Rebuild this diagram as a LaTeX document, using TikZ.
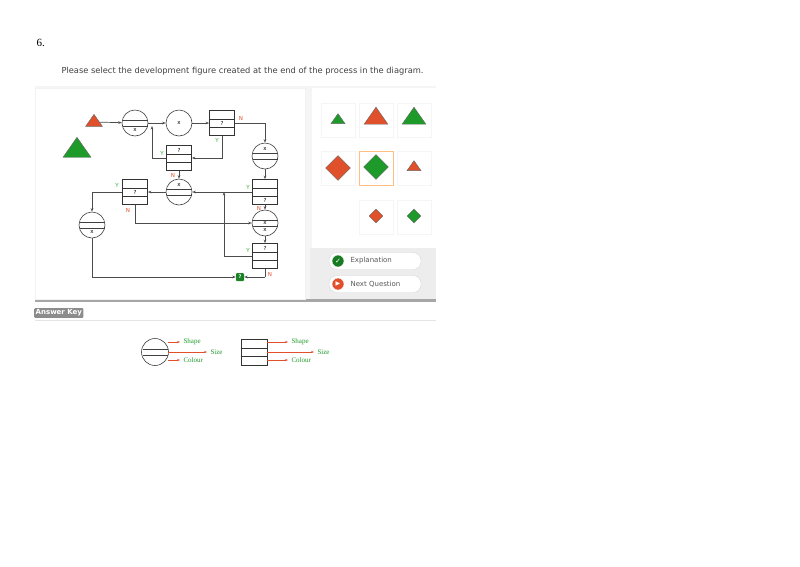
\documentclass[tikz,border=0pt]{standalone}
\usepackage{fontspec}
\setmainfont{Liberation Serif}
\newfontfamily\uisans{DejaVu Sans}
\usetikzlibrary{arrows.meta,shapes.geometric}
\definecolor{ored}{HTML}{E0502A}
\definecolor{ogreen}{HTML}{1E9A2A}
\definecolor{lbl}{HTML}{33AA33}
\begin{document}
\begin{tikzpicture}[x=1pt,y=-1pt,
  lk/.style={draw=black!70,line width=0.7pt,-{Stealth[length=3.5pt]}},
  ln/.style={draw=black!70,line width=0.7pt},
  circ/.style={circle,draw=black!75,line width=0.6pt,minimum size=26pt,inner sep=0pt},
  rbox/.style={rectangle,draw=black!80,line width=0.7pt,minimum width=25pt,minimum height=25pt,inner sep=0pt},
  ylab/.style={text=lbl,font=\uisans\fontsize{5.5}{5.5}\selectfont},
  nlab/.style={text=ored,font=\uisans\fontsize{5.5}{5.5}\selectfont},
  sm/.style={font=\uisans\fontsize{5.5}{5.5}\selectfont},
  cell/.style={draw=black!4,fill=white,minimum size=34pt,inner sep=0pt},
  tri/.style={isosceles triangle,shape border rotate=90,isosceles triangle apex angle=70,draw=black!60,inner sep=0pt},
  dia/.style={diamond,draw=black!60,inner sep=0pt},
  btn/.style={draw=black!15,fill=white,rounded corners=8pt,minimum width=92pt,minimum height=17pt},
  key/.style={text=ogreen,font=\fontsize{7}{7}\selectfont},
  karr/.style={draw=ored,line width=0.6pt,-{Stealth[length=3pt]}}]
\useasboundingbox (0,0) rectangle (800,566);
\node[anchor=west,font=\fontsize{11}{11}\selectfont] (num) at (33,43) {6.};
\node[anchor=west,text=black!75,font=\uisans\fontsize{8.3}{8.3}\selectfont] (q) at (58,71) {Please select the development figure created at the end of the process in the diagram.};
% panels
\fill[black!4] (35,86) rectangle (436,88);
\fill[black!4] (305,88) rectangle (312,300);
\fill[black!7] (310,248) rectangle (436,300);
\fill[black!35] (35,299) rectangle (436,302);
\draw[black!5] (35,88) rectangle (305,299);
% diagram nodes
\node[tri,fill=ored,minimum height=12pt] (st) at (94,122) {};
\node[tri,fill=ogreen,minimum height=20pt] (bg) at (77,150) {};
\newcommand{\circlines}[1]{\draw[black!75,line width=0.5pt] ([xshift=-12.5pt,yshift=-3pt]#1.center) -- ([xshift=12.5pt,yshift=-3pt]#1.center) ([xshift=-12.5pt,yshift=3pt]#1.center) -- ([xshift=12.5pt,yshift=3pt]#1.center);}
\newcommand{\boxlines}[1]{\draw[black!80,line width=0.5pt] ([yshift=-4.2pt]#1.west) -- ([yshift=-4.2pt]#1.east) ([yshift=4.2pt]#1.west) -- ([yshift=4.2pt]#1.east);}
\node[circ] (c1) at (135,123) {}; \circlines{c1}
\node[sm] (c1t) at (135,130) {x};
\node[circ] (c2) at (179,123) {};
\node[sm] (c2t) at (179,123) {x};
\node[rbox] (r1) at (222,123) {}; \boxlines{r1}
\node[sm] (r1t) at (222,123) {?};
\node[rbox] (r2) at (179,158) {}; \boxlines{r2}
\node[sm] (r2t) at (179,150) {?};
\node[circ] (c3) at (265,156) {}; \circlines{c3}
\node[sm] (c3t) at (265,149) {x};
\node[circ] (c4) at (179,192) {}; \circlines{c4}
\node[sm] (c4t) at (179,185) {x};
\node[rbox] (r3) at (265,192) {}; \boxlines{r3}
\node[sm] (r3t) at (265,200) {?};
\node[rbox] (r4) at (135,192) {}; \boxlines{r4}
\node[sm] (r4t) at (135,192) {?};
\node[circ] (c5) at (92,225) {}; \circlines{c5}
\node[sm] (c5t) at (92,232) {x};
\node[circ] (c6) at (265,223) {}; \circlines{c6}
\node[sm] (c6t) at (265,223) {x};
\node[sm] (c6b) at (265,230) {x};
\node[rbox] (r5) at (265,256) {}; \boxlines{r5}
\node[sm] (r5t) at (265,248) {?};
\node[fill=ogreen!85!black,text=white,minimum size=8pt,inner sep=0pt,rounded corners=1pt,font=\uisans\fontsize{5}{5}\selectfont\bfseries] (res) at (240,277) {?};
% connectors
\draw[lk] (st) -- (c1);
\draw[lk] (c1) -- (c2);
\draw[lk] (c2) -- (r1);
\draw[lk] (r1.east) -| (c3.north);
\node[nlab] (n1) at (241,118) {N};
\draw[lk] (r1.south) |- (r2.east);
\node[ylab] (y1) at (217,140) {Y};
\draw[lk] (r2.west) -| (152,126);
\node[ylab] (y2) at (162,153) {Y};
\draw[lk] (r2.south) -- (c4.north);
\node[nlab] (n2) at (173,175) {N};
\draw[lk] (c3) -- (r3);
\draw[lk] (r3.west) -- (c4.east);
\node[ylab] (y3) at (248,187) {Y};
\draw[lk] (r3.south) -- (c6.north);
\node[nlab] (n3) at (259,208) {N};
\draw[lk] (c4) -- (r4);
\draw[lk] (r4.west) -| (c5.north);
\node[ylab] (y4) at (117,185) {Y};
\draw[lk] (r4.south) |- (c6.west);
\node[nlab] (n4) at (128,210) {N};
\draw[lk] (c6) -- (r5);
\draw[lk] (r5.west) -| (224,192);
\node[ylab] (y5) at (248,250) {Y};
\coordinate (r5n) at (265,277);
\draw[ln] (r5.south) -- (r5n);
\draw[lk] (r5n) -- (res.east);
\node[nlab] (n5) at (270,274) {N};
\draw[lk] (c5.south) |- (res.west);
% options
\node[cell] (o1) at (338,120) {}; \node[tri,fill=ogreen,minimum height=10pt] (s1) at (338,120) {};
\node[cell] (o2) at (376,120) {}; \node[tri,fill=ored,minimum height=17pt] (s2) at (376,118) {};
\node[cell] (o3) at (414,120) {}; \node[tri,fill=ogreen,minimum height=17pt] (s3) at (414,118) {};
\node[cell] (o4) at (338,168) {}; \node[dia,fill=ored,minimum size=25pt] (s4) at (338,168) {};
\node[cell,draw=orange!50] (o5) at (376,168) {}; \node[dia,fill=ogreen,minimum size=25pt] (s5) at (376,167) {};
\node[cell] (o6) at (414,168) {}; \node[tri,fill=ored,minimum height=10pt] (s6) at (414,167) {};
\node[cell] (o8) at (376,217) {}; \node[dia,fill=ored,minimum size=14pt] (s8) at (376,216) {};
\node[cell] (o9) at (414,217) {}; \node[dia,fill=ogreen,minimum size=14pt] (s9) at (414,216) {};
% buttons
\node[btn] (b1) at (375,261) {};
\node[circle,fill=ogreen!80!black,draw=white,minimum size=12pt,inner sep=0pt,text=white,font=\uisans\fontsize{7}{7}\selectfont\bfseries] (b1i) at (338,261) {✓};
\node[anchor=west,text=black!65,font=\uisans\fontsize{7}{7}\selectfont] (b1t) at (347,261) {Explanation};
\node[btn] (b2) at (375,284) {};
\node[circle,fill=ored,draw=white,minimum size=12pt,inner sep=0pt,text=white,font=\uisans\fontsize{6}{6}\selectfont] (b2i) at (338,284) {▶};
\node[anchor=west,text=black!65,font=\uisans\fontsize{7}{7}\selectfont] (b2t) at (347,284) {Next Question};
% answer key
\node[fill=black!45,text=white,anchor=west,rounded corners=1pt,inner sep=1.5pt,font=\uisans\bfseries\fontsize{7}{7}\selectfont] (ak) at (34,313) {Answer Key};
\draw[black!10] (35,320) -- (436,320);
\node[circ,minimum size=27pt] (kc) at (155,352) {}; \circlines{kc}
\node[key,anchor=west] (ks1) at (180,342) {Shape};
\node[key,anchor=west] (kz1) at (207,352) {Size};
\node[key,anchor=west] (kl1) at (180,360) {Colour};
\draw[karr] (168,342) -- (ks1.west);
\draw[karr] (168,352) -- (kz1.west);
\draw[karr] (168,360) -- (kl1.west);
\node[rbox,minimum width=26pt,minimum height=26pt] (kr) at (254,352) {}; \boxlines{kr}
\node[key,anchor=west] (ks2) at (288,342) {Shape};
\node[key,anchor=west] (kz2) at (314,352) {Size};
\node[key,anchor=west] (kl2) at (288,360) {Colour};
\draw[karr] (267,342) -- (ks2.west);
\draw[karr] (267,352) -- (kz2.west);
\draw[karr] (267,360) -- (kl2.west);
\end{tikzpicture}
\end{document}
